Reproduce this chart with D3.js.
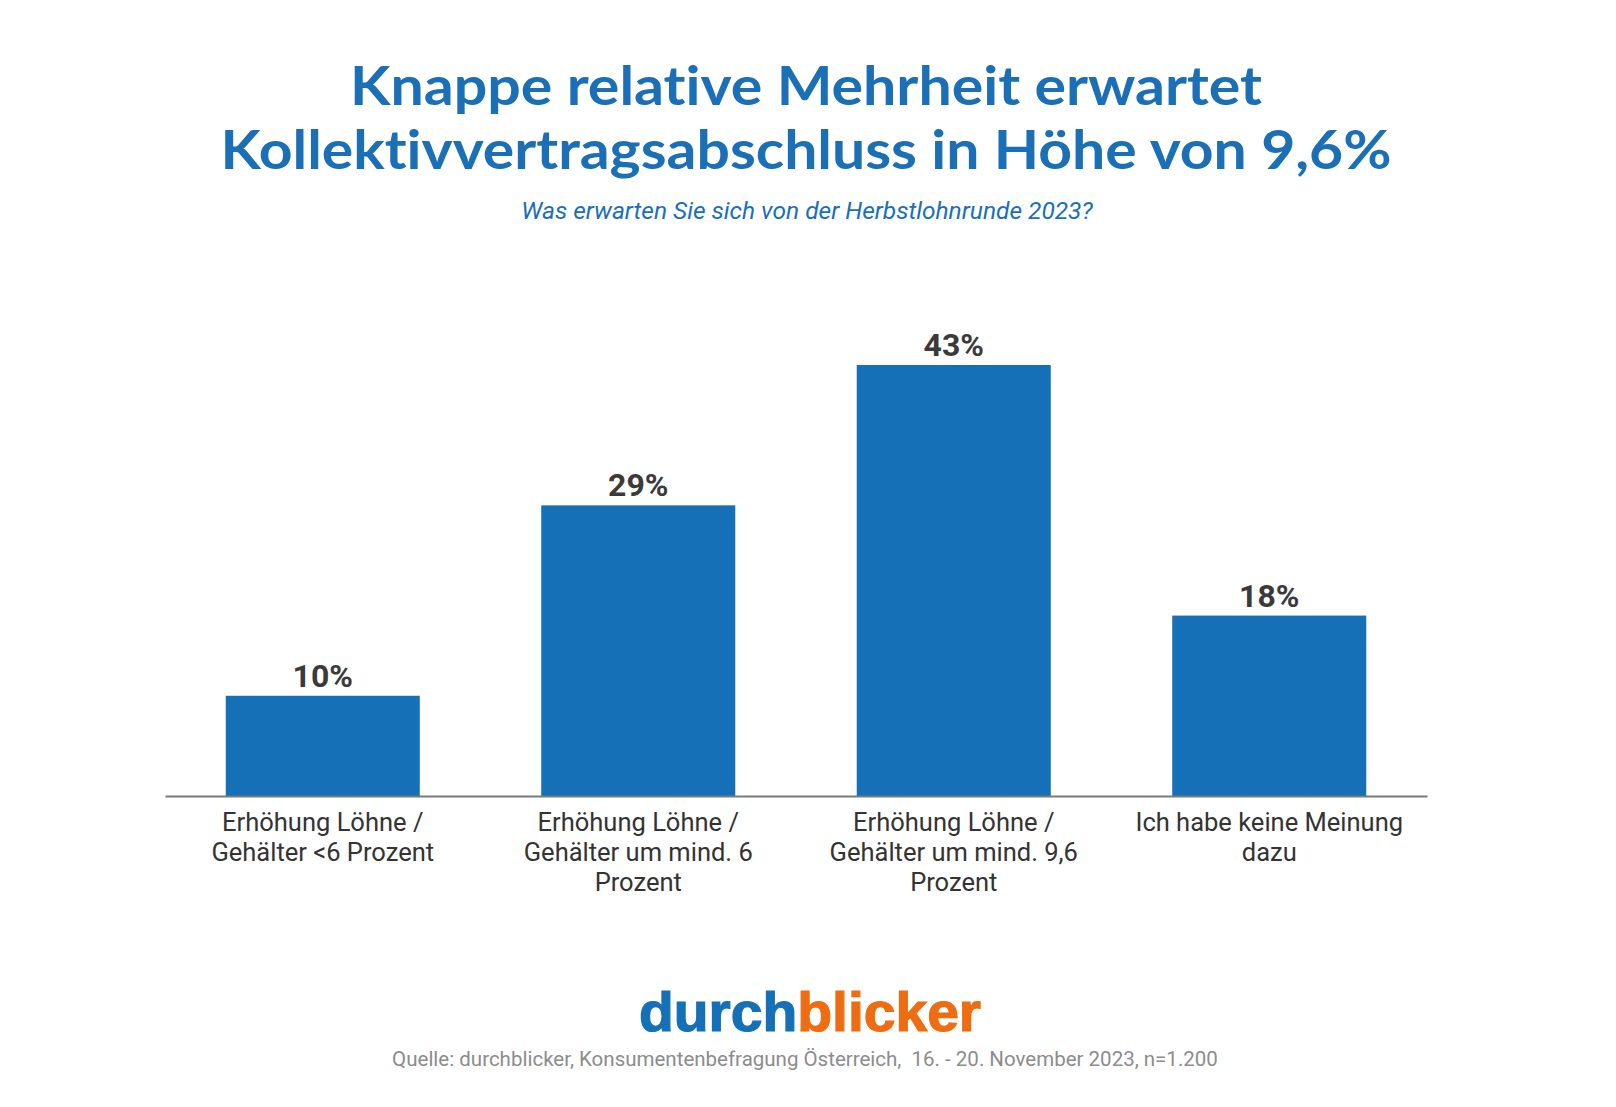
<!DOCTYPE html>
<html>
<head>
<meta charset="utf-8">
<script src="https://cdn.jsdelivr.net/npm/d3@7"></script>
<style>
  html, body { margin: 0; padding: 0; background: #ffffff; }
  svg { display: block; }
  text { font-variant-ligatures: none; font-feature-settings: "liga" 0, "clig" 0; }
</style>
</head>
<body>
<svg id="chart" width="1616" height="1107"></svg>
<script>
// ---- Data ----
const titleLines = ["Knappe relative Mehrheit erwartet", "Kollektivvertragsabschluss in Höhe von 9,6%"];
const subtitle = "Was erwarten Sie sich von der Herbstlohnrunde 2023?";
const categories = [
  ["Erhöhung Löhne /", "Gehälter <6 Prozent"],
  ["Erhöhung Löhne /", "Gehälter um mind. 6", "Prozent"],
  ["Erhöhung Löhne /", "Gehälter um mind. 9,6", "Prozent"],
  ["Ich habe keine Meinung", "dazu"]
];
const values = [10, 29, 43, 18];
const logoParts = ["durch", "blicker"];
const source = "Quelle: durchblicker, Konsumentenbefragung Österreich,  16. - 20. November 2023, n=1.200";

// ---- Layout ----
const W = 1616, H = 1107;
const blue = "#1570b7", orange = "#ee6d12";
const svg = d3.select("#chart");
svg.append("rect").attr("width", W).attr("height", H).attr("fill", "#fff");

// Title
const titleBaselines = [105, 169];
const titleWidths = [912, 1171];
titleLines.forEach((t, i) => {
  svg.append("text")
    .attr("x", 806).attr("y", titleBaselines[i])
    .attr("text-anchor", "middle")
    .attr("font-family", "Lato, sans-serif")
    .attr("font-weight", 700)
    .attr("font-size", 53)
    .attr("fill", "#1a6fb7")
    .attr("textLength", titleWidths[i])
    .attr("lengthAdjust", "spacingAndGlyphs")
    .text(t);
});

svg.append("text")
  .attr("x", 807).attr("y", 219)
  .attr("text-anchor", "middle")
  .attr("font-family", "Roboto, sans-serif")
  .attr("font-style", "italic")
  .attr("font-size", 24.5)
  .attr("fill", "#1a6fb7")
  .text(subtitle);

// Scales
const idx = categories.map((d, i) => i);
const x = d3.scaleBand().domain(idx).range([165, 1427]).paddingInner(0.385).paddingOuter(0.1925);
const y = d3.scaleLinear().domain([0, 43]).range([796, 365]);

// Bars
svg.append("g").selectAll("rect").data(values).join("rect")
  .attr("x", (d, i) => x(i))
  .attr("y", d => y(d))
  .attr("width", x.bandwidth())
  .attr("height", d => y(0) - y(d))
  .attr("fill", blue);

// Value labels
svg.append("g").selectAll("text").data(values).join("text")
  .attr("x", (d, i) => x(i) + x.bandwidth() / 2)
  .attr("y", d => y(d) - 9)
  .attr("text-anchor", "middle")
  .attr("font-family", "Roboto, sans-serif")
  .attr("font-weight", 700)
  .attr("font-size", 32)
  .attr("fill", "#3a3a3a")
  .text(d => d + "%");

// Axis
const axis = svg.append("g").attr("transform", `translate(0,${y(0)})`)
  .call(d3.axisBottom(x).tickSize(0).tickFormat(""));
axis.select(".domain").attr("stroke", "#7a7a7a").attr("stroke-width", 2);

// Category labels
categories.forEach((lines, i) => {
  const t = svg.append("text")
    .attr("text-anchor", "middle")
    .attr("font-family", "Roboto, sans-serif")
    .attr("font-size", 25.5)
    .attr("fill", "#333333");
  lines.forEach((ln, j) => {
    t.append("tspan")
      .attr("x", x(i) + x.bandwidth() / 2)
      .attr("y", 831 + j * 30)
      .text(ln);
  });
});

// Logo
const logo = svg.append("text")
  .attr("x", 810).attr("y", 1031)
  .attr("text-anchor", "middle")
  .attr("font-family", "'Liberation Sans', Arial, sans-serif")
  .attr("font-weight", 700)
  .attr("font-size", 55)
  .attr("textLength", 342)
  .attr("lengthAdjust", "spacingAndGlyphs")
  .attr("stroke-width", 1.2);
logo.append("tspan").attr("fill", blue).attr("stroke", blue).text(logoParts[0]);
logo.append("tspan").attr("fill", orange).attr("stroke", orange).text(logoParts[1]);

// Source
svg.append("text")
  .attr("x", 805).attr("y", 1066)
  .attr("text-anchor", "middle")
  .attr("font-family", "Roboto, sans-serif")
  .attr("font-size", 20.5)
  .attr("fill", "#8c8c8c")
  .style("white-space", "pre")
  .text(source);
</script>
</body>
</html>
